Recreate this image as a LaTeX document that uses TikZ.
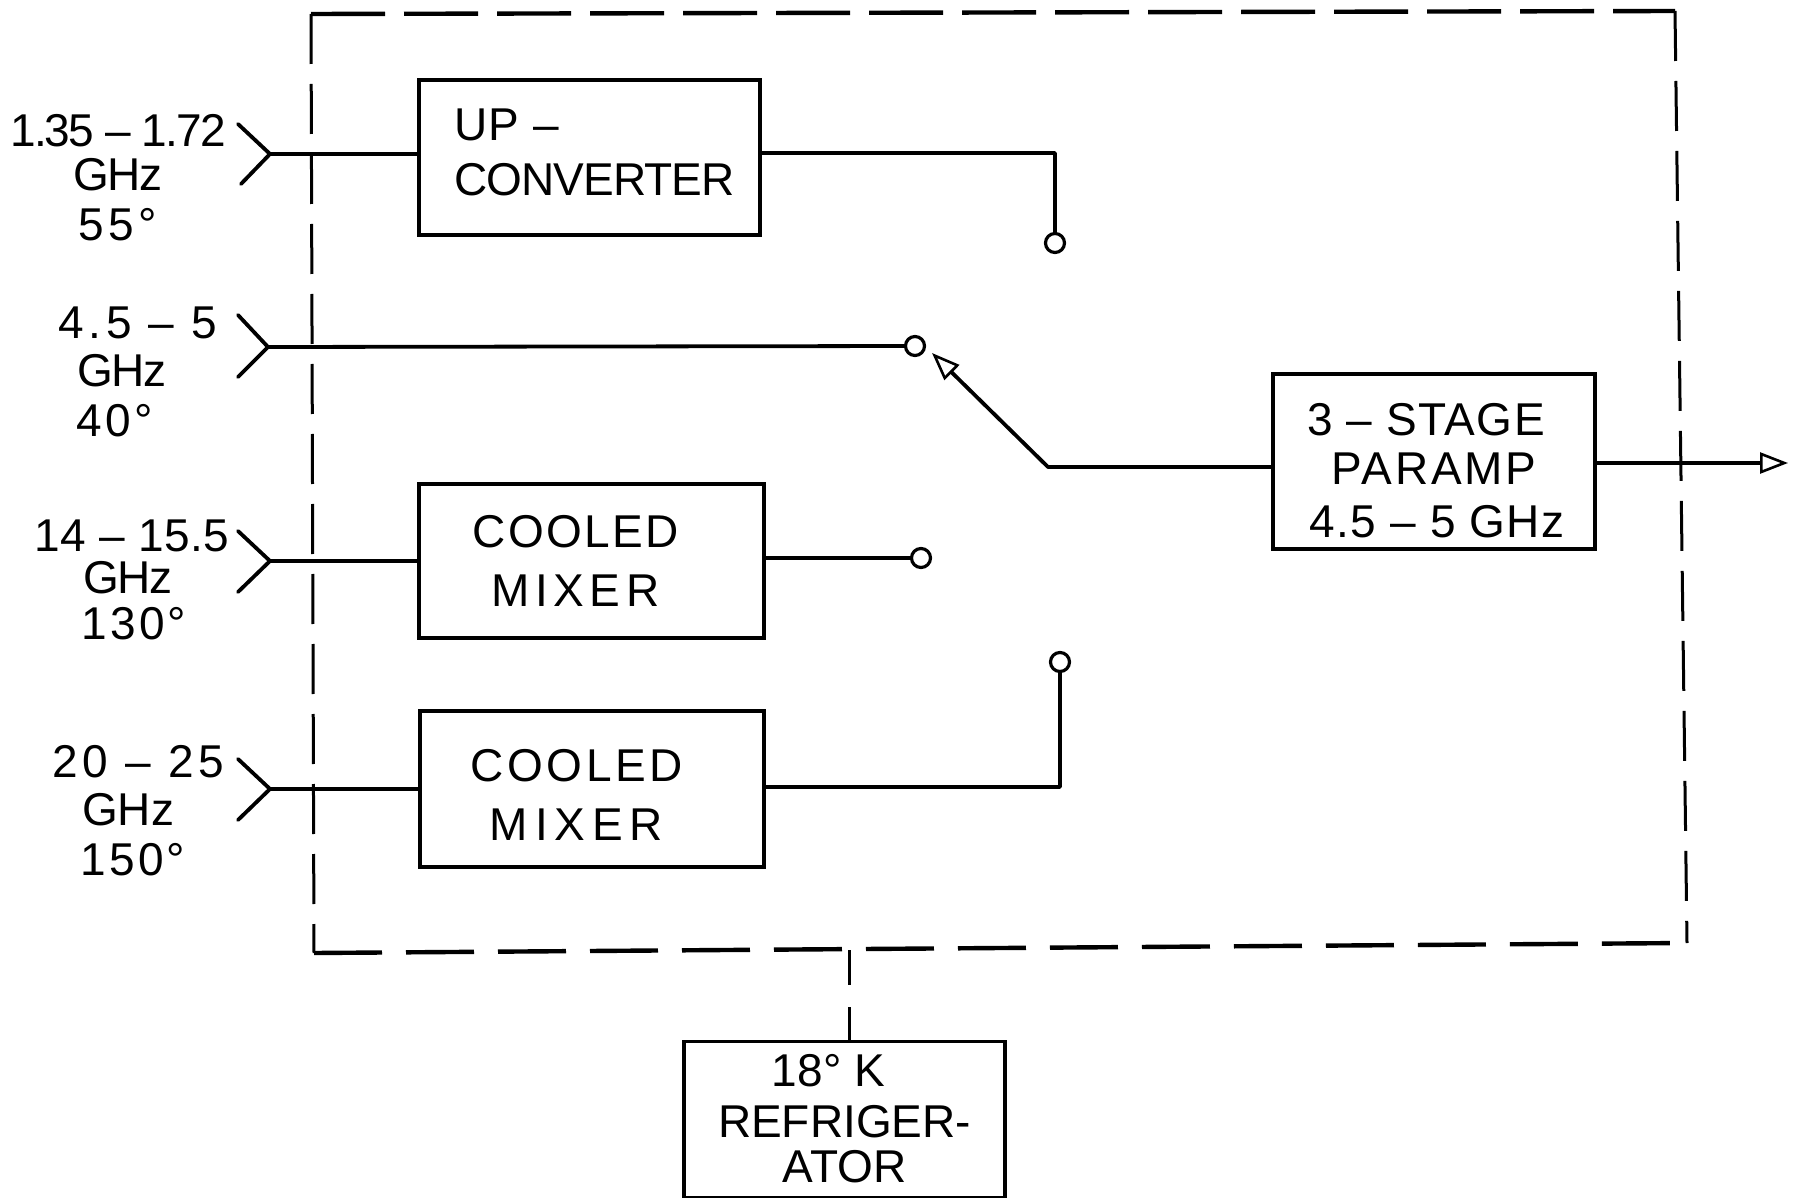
\documentclass[tikz,border=0pt]{standalone}
\usepackage{fontspec}
\setmainfont{Liberation Sans}
\usetikzlibrary{arrows.meta,calc}
\newcommand{\lsp}[2]{{\addfontfeature{LetterSpace=#1}#2}}
\tikzset{
  x=0.5pt,y=-0.5pt,
  wire/.style={line width=1.9pt,line cap=round,line join=round,black},
  blockbox/.style={draw=black,line width=1.9pt,inner sep=0pt},
  blocktext/.style={align=center,inner sep=0pt,font=\fontsize{23}{27.5}\selectfont},
  terminal/.style={circle,draw=black,line width=1.6pt,fill=white,inner sep=0pt,minimum size=9.5pt},
  bandlabel/.style={align=center,inner sep=0pt,font=\fontsize{23}{24}\selectfont},
  hdash/.style={line width=2.2pt,black,dash pattern=on 37pt off 9.5pt},
  hdashb/.style={line width=2.2pt,black,dash pattern=on 34pt off 12pt},
  vdash/.style={line width=1.5pt,black,dash pattern=on 25pt off 10pt},
  openhead/.style={-{Triangle[open,fill=white,length=14pt,width=10.5pt,line width=1.3pt]}},
}
\begin{document}
\begin{tikzpicture}
\useasboundingbox (0,0) rectangle (1794,1198);
% enclosure
\coordinate (tl) at (311,14);
\coordinate (tr) at (1675,11);
\coordinate (br) at (1687,943);
\coordinate (bl) at (314,953);
\draw[hdash] (tl) -- (tr);
\draw[hdashb] (bl) -- (br);
\draw[vdash] (tl) -- (bl);
\draw[vdash] (tr) -- (br);

% blocks
\node[blockbox,minimum width=170.5pt,minimum height=77.5pt] (up) at (589.5,157.5) {};
\node[blockbox,minimum width=172.5pt,minimum height=77pt] (mixa) at (591.5,561) {};
\node[blockbox,minimum width=172pt,minimum height=78pt] (mixb) at (592,789) {};
\node[blockbox,minimum width=161pt,minimum height=87.5pt] (amp) at (1434,461.5) {};
\node[blockbox,minimum width=160.5pt,minimum height=78pt] (fridge) at (844.5,1119.5) {};

% block texts
\node[blocktext,align=left] (upt) at ([xshift=2.5pt,yshift=2.6pt]up.center) {\lsp{3}{UP –}\\\lsp{-2}{CONVERTER}};
\node[blocktext] (mixat) at ([xshift=-8pt]mixa.center) {\lsp{5}{COOLED}\\[2pt]\lsp{12}{MIXER}};
\node[blocktext] (mixbt) at ([xshift=-7.7pt,yshift=-2.9pt]mixb.center) {\lsp{8}{COOLED}\\[2pt]\lsp{15}{MIXER}};
\node[blocktext] (ampt) at ([yshift=-4.6pt]amp.center) {\hspace*{-8pt}\lsp{3}{3 – STAGE}\\[-3pt]\lsp{6}{PARAMP}\\[-1pt]\hspace*{3pt}\lsp{3}{4.5 – 5 GHz}};
\node[blocktext] (fridget) at ([yshift=0.5pt]fridge.center) {\hspace*{-16pt}\lsp{0}{18° K}\\[-2pt]\lsp{0}{REFRIGER-}\\[-5pt]\lsp{0}{ATOR}};

% band labels
\node[bandlabel] (la) at (118,178) {\lsp{-4}{1.35 – 1.72}\\[-2pt]\lsp{-3}{GHz}\\[1pt]\lsp{10}{55°}};
\node[bandlabel] (lb) at (122,372) {\hspace*{16pt}\lsp{10}{4.5 – 5}\\\lsp{-3}{GHz}\\[1pt]\hspace*{-7pt}\lsp{7}{40°}};
\node[bandlabel] (lc) at (128,580) {\hspace*{4pt}\lsp{1}{14 – 15.5}\\[-3pt]\lsp{-3}{GHz}\\[-1pt]\hspace*{6pt}\lsp{7}{130°}};
\node[bandlabel] (ld) at (128,811) {\hspace*{10pt}\lsp{10}{20 – 25}\\\lsp{0}{GHz}\\[1pt]\hspace*{5pt}\lsp{7}{150°}};

% feed horns
\coordinate (fa) at (270,154);
\coordinate (fb) at (268,347);
\coordinate (fc) at (270,561);
\coordinate (fd) at (270,789);
\draw[wire] (238,124) -- (fa) -- (241,184);
\draw[wire] (238,315) -- (fb) -- (238,377);
\draw[wire] (238,531) -- (fc) -- (238,592);
\draw[wire] (238,759) -- (fd) -- (238,820);

% terminals
\node[terminal] (ta) at (1055,243) {};
\node[terminal] (tb) at (915,346) {};
\node[terminal] (tc) at (921,558) {};
\node[terminal] (td) at (1060,662) {};

% connectors
\draw[wire] (fa) -- (fa -| up.west);
\draw[wire] (fb) -- (tb);
\draw[wire] (fc) -- (fc -| mixa.west);
\draw[wire] (fd) -- (fd -| mixb.west);
\coordinate (ua) at (1055,153);
\draw[wire] (ua -| up.east) -- (ua) -- (ta);
\draw[wire] (tc -| mixa.east) -- (tc);
\coordinate (ud) at (1060,787);
\draw[wire] (ud -| mixb.east) -- (ud) -- (td);

% switch arm
\coordinate (sw) at (1048,467);
\coordinate (swtip) at (932,353);
\draw[wire,openhead] (sw -| amp.west) -- (sw) -- (swtip);

% output
\coordinate (out) at (1788,463);
\draw[wire,openhead] (out -| amp.east) -- (out);

% refrigerator link
\coordinate (rl) at (849,950);
\draw[line width=1.5pt,black,dash pattern=on 17.5pt off 11pt] (rl) -- (rl |- fridge.north);
\end{tikzpicture}
\end{document}
